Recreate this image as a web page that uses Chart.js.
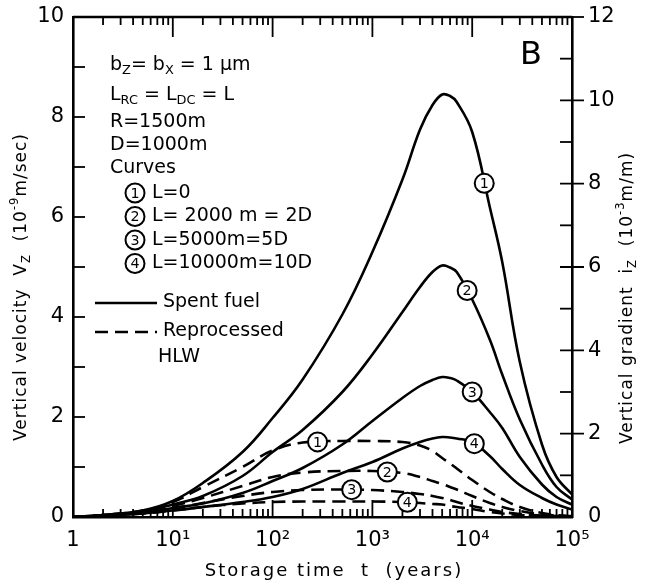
<!DOCTYPE html>
<html>
<head>
<meta charset="utf-8">
<script src="https://cdn.jsdelivr.net/npm/chart.js@4.4.1/dist/chart.umd.min.js"></script>
<style>
  html, body { margin: 0; padding: 0; background: #fff; }
  #wrap { width: 652px; height: 584px; }
</style>
</head>
<body>
<div id="wrap"><canvas id="chart" width="652" height="584"></canvas></div>
<script>
// storage time (years)
const years = [1, 2, 5, 10, 20, 50, 100, 200, 500, 1000, 2000, 3000, 4000, 5000, 6000, 7000, 10000, 15000, 20000, 30000, 50000, 70000, 100000];

// spent fuel, vertical velocity (10^-9 m/sec)
const spent1 = [0, 0.04, 0.13, 0.32, 0.68, 1.3, 1.98, 2.75, 4.05, 5.3, 6.75, 7.75, 8.24, 8.45, 8.42, 8.3, 7.7, 6.2, 5.1, 3.1, 1.45, 0.8, 0.45];
const spent2 = [0, 0.04, 0.11, 0.25, 0.42, 0.82, 1.3, 1.74, 2.5, 3.25, 4.1, 4.6, 4.9, 5.03, 4.99, 4.9, 4.35, 3.55, 2.85, 1.95, 1.05, 0.6, 0.35];
const spent3 = [0, 0.03, 0.08, 0.18, 0.27, 0.48, 0.72, 0.98, 1.45, 1.92, 2.38, 2.62, 2.74, 2.8, 2.78, 2.73, 2.5, 2.1, 1.78, 1.2, 0.65, 0.4, 0.25];
const spent4 = [0, 0.025, 0.07, 0.13, 0.2, 0.3, 0.4, 0.56, 0.88, 1.1, 1.37, 1.5, 1.57, 1.6, 1.59, 1.57, 1.5, 1.22, 0.96, 0.64, 0.38, 0.25, 0.15];

// reprocessed HLW
const hlw1 = [0, 0.04, 0.13, 0.3, 0.6, 1.0, 1.33, 1.49, 1.52, 1.52, 1.5, 1.43, 1.32, 1.18, 1.07, 0.97, 0.74, 0.5, 0.36, 0.2, 0.08, 0.04, 0.02];
const hlw2 = [0, 0.03, 0.1, 0.22, 0.38, 0.62, 0.8, 0.89, 0.92, 0.92, 0.88, 0.8, 0.72, 0.66, 0.6, 0.55, 0.42, 0.28, 0.2, 0.12, 0.05, 0.03, 0.01];
const hlw3 = [0, 0.03, 0.08, 0.17, 0.28, 0.42, 0.5, 0.54, 0.55, 0.54, 0.5, 0.46, 0.42, 0.38, 0.34, 0.3, 0.22, 0.15, 0.1, 0.06, 0.03, 0.02, 0.01];
const hlw4 = [0, 0.02, 0.07, 0.13, 0.2, 0.27, 0.3, 0.31, 0.31, 0.31, 0.3, 0.28, 0.26, 0.25, 0.22, 0.2, 0.16, 0.1, 0.07, 0.04, 0.02, 0.01, 0.01];

// where the curve numbers sit (years)
const spentMarkYears = [13200, 8900, 10000, 10500];
const hlwMarkYears = [282, 1410, 620, 2240];

const xTicks = [1, 10, 100, 1000, 10000, 100000];
const leftTicks = [0, 2, 4, 6, 8, 10];
const rightTicks = [0, 2, 4, 6, 8, 10, 12];

const curveNotes = ['L=0', 'L= 2000 m = 2D', 'L=5000m=5D', 'L=10000m=10D'];

const spent = [spent1, spent2, spent3, spent4];
const hlw = [hlw1, hlw2, hlw3, hlw4];

const sup = { '1': '\u00b9', '2': '\u00b2', '3': '\u00b3', '4': '\u2074', '5': '\u2075' };
const tickFont = { family: "'DejaVu Sans'", size: 21 };
const textFont = "'DejaVu Sans'";

function toPoints(vals) {
  return vals.map((v, i) => ({ x: years[i], y: v }));
}

function curve(vals, dashed) {
  return {
    data: toPoints(vals),
    borderColor: '#000',
    borderWidth: 2.6,
    borderDash: dashed ? [13, 7] : [],
    pointRadius: 0,
    fill: false,
    tension: 0.4,
    yAxisID: 'y'
  };
}

// value on a curve at time t, linear in log t
function valueAt(vals, t) {
  const lt = Math.log10(t);
  for (let i = 0; i < years.length - 1; i++) {
    const a = Math.log10(years[i]), b = Math.log10(years[i + 1]);
    if (lt >= a && lt <= b) {
      return vals[i] + (vals[i + 1] - vals[i]) * (lt - a) / (b - a);
    }
  }
  return vals[vals.length - 1];
}

// text with sub/superscript pieces
function richWidth(ctx, parts, size) {
  let w = 0;
  parts.forEach(p => {
    ctx.font = (p[1] ? size * 0.68 : size) + 'px ' + textFont;
    w += ctx.measureText(p[0]).width;
  });
  return w;
}
function drawRich(ctx, parts, x, y, size) {
  parts.forEach(p => {
    ctx.font = (p[1] ? size * 0.68 : size) + 'px ' + textFont;
    let dy = 0;
    if (p[1] === 'sub') dy = size * 0.3;
    if (p[1] === 'sup') dy = -size * 0.42;
    ctx.fillText(p[0], x, y + dy);
    x += ctx.measureText(p[0]).width;
  });
}

function numCircle(ctx, x, y, n, r) {
  ctx.save();
  ctx.setLineDash([]);
  ctx.beginPath();
  ctx.arc(x, y, r, 0, Math.PI * 2);
  ctx.fillStyle = '#fff';
  ctx.fill();
  ctx.lineWidth = 2;
  ctx.strokeStyle = '#000';
  ctx.stroke();
  ctx.fillStyle = '#000';
  ctx.font = (r * 1.5) + 'px ' + textFont;
  ctx.textAlign = 'center';
  ctx.textBaseline = 'middle';
  ctx.fillText(String(n), x, y + 1);
  ctx.restore();
}

// keep tick labels from pushing the plot frame
function noLabelPadding(s) {
  s.paddingTop = 0;
  s.paddingBottom = 0;
}

const decor = {
  id: 'decor',
  afterDraw(chart) {
    const ctx = chart.ctx;
    const a = chart.chartArea;
    const xs = chart.scales.x, ys = chart.scales.y, y2 = chart.scales.y2;
    ctx.save();
    ctx.strokeStyle = '#000';
    ctx.fillStyle = '#000';
    ctx.lineWidth = 2.6;

    // top frame line
    ctx.beginPath();
    ctx.moveTo(a.left, a.top);
    ctx.lineTo(a.right, a.top);
    ctx.stroke();

    // log ticks, bottom and top, pointing inward
    ctx.lineWidth = 1.8;
    for (let d = 0; d < 5; d++) {
      for (let m = 1; m <= 9; m++) {
        const v = m * Math.pow(10, d);
        if (m === 1 && d === 0) continue;
        const px = xs.getPixelForValue(v);
        const len = m === 1 ? 17 : 8;
        ctx.beginPath();
        ctx.moveTo(px, a.bottom);
        ctx.lineTo(px, a.bottom - len);
        ctx.moveTo(px, a.top);
        ctx.lineTo(px, a.top + (m === 1 ? 20 : 8));
        ctx.stroke();
      }
    }
    // left ticks
    for (let v = 1; v < 10; v++) {
      const py = ys.getPixelForValue(v);
      ctx.beginPath();
      ctx.moveTo(a.left, py);
      ctx.lineTo(a.left + 12, py);
      ctx.stroke();
    }
    // right ticks, inward, with outer dash at labelled values
    for (let v = 1; v <= 12; v++) {
      const py = y2.getPixelForValue(v);
      ctx.beginPath();
      if (v < 12) {
        ctx.moveTo(a.right, py);
        ctx.lineTo(a.right - 12, py);
      }
      if (v % 2 === 0) {
        ctx.moveTo(a.right, py);
        ctx.lineTo(a.right + 12, py);
      }
      ctx.stroke();
    }

    // curve numbers
    spent.forEach((vals, i) => {
      const t = spentMarkYears[i];
      numCircle(ctx, xs.getPixelForValue(t), ys.getPixelForValue(valueAt(vals, t)), i + 1, 9.5);
    });
    hlw.forEach((vals, i) => {
      const t = hlwMarkYears[i];
      numCircle(ctx, xs.getPixelForValue(t), ys.getPixelForValue(valueAt(vals, t)), i + 1, 9.5);
    });

    // parameter block
    ctx.textAlign = 'left';
    ctx.textBaseline = 'middle';
    const fs = 19;
    const tx = a.left + 37;
    drawRich(ctx, [['b', ''], ['Z', 'sub'], ['= b', ''], ['X', 'sub'], [' = 1 \u03bcm', '']], tx, 65, fs);
    drawRich(ctx, [['L', ''], ['RC', 'sub'], [' = L', ''], ['DC', 'sub'], [' = L', '']], tx, 95, fs);
    drawRich(ctx, [['R=1500m', '']], tx, 122, fs);
    drawRich(ctx, [['D=1000m', '']], tx, 145, fs);
    drawRich(ctx, [['Curves', '']], tx, 168, fs);
    curveNotes.forEach((s, i) => {
      const yy = 193 + i * 23.5;
      numCircle(ctx, tx + 25, yy, i + 1, 9.5);
      ctx.fillStyle = '#000';
      drawRich(ctx, [[s, '']], tx + 42, yy, fs);
    });

    // legend
    ctx.lineWidth = 2.6;
    ctx.beginPath();
    ctx.moveTo(a.left + 22, 303);
    ctx.lineTo(a.left + 84, 303);
    ctx.stroke();
    ctx.setLineDash([13, 7]);
    ctx.beginPath();
    ctx.moveTo(a.left + 22, 332);
    ctx.lineTo(a.left + 84, 332);
    ctx.stroke();
    ctx.setLineDash([]);
    drawRich(ctx, [['Spent fuel', '']], a.left + 90, 302, fs);
    drawRich(ctx, [['Reprocessed', '']], a.left + 90, 331, fs);
    drawRich(ctx, [['HLW', '']], a.left + 85, 357, fs);

    // panel letter
    ctx.font = '32px ' + textFont;
    ctx.textAlign = 'center';
    ctx.fillText('B', 531, 56);

    // axis titles
    ctx.textAlign = 'left';
    ctx.letterSpacing = '2px';
    const xt = [['Storage time  t  (years)', '']];
    const xw = richWidth(ctx, xt, 18);
    drawRich(ctx, xt, 334 - xw / 2, 571, 18);

    ctx.letterSpacing = '1px';
    const lt = [['Vertical velocity  V', ''], ['Z', 'sub'], ['  (10', ''], ['-9', 'sup'], ['m/sec)', '']];
    const lw = richWidth(ctx, lt, 17);
    ctx.save();
    ctx.translate(22, 287);
    ctx.rotate(-Math.PI / 2);
    drawRich(ctx, lt, -lw / 2, 0, 17);
    ctx.restore();

    const rt = [['Vertical gradient  i', ''], ['Z', 'sub'], ['  (10', ''], ['-3', 'sup'], ['m/m)', '']];
    const rw = richWidth(ctx, rt, 17);
    ctx.save();
    ctx.translate(628, 298);
    ctx.rotate(-Math.PI / 2);
    drawRich(ctx, rt, -rw / 2, 0, 17);
    ctx.restore();

    ctx.restore();
  }
};

new Chart(document.getElementById('chart'), {
  type: 'line',
  data: {
    datasets: [
      curve(spent1, false), curve(spent2, false), curve(spent3, false), curve(spent4, false),
      curve(hlw1, true), curve(hlw2, true), curve(hlw3, true), curve(hlw4, true)
    ]
  },
  options: {
    responsive: false,
    animation: false,
    layout: { padding: { top: 17, left: 0, right: 0, bottom: 0 } },
    plugins: { legend: { display: false }, tooltip: { enabled: false } },
    scales: {
      x: {
        type: 'logarithmic',
        position: 'bottom',
        min: 1,
        max: 100000,
        afterBuildTicks: s => { s.ticks = xTicks.map(v => ({ value: v })); },
        afterFit: s => { s.height = 67; s.paddingLeft = 0; s.paddingRight = 0; },
        ticks: {
          color: '#000',
          font: tickFont,
          padding: 11,
          maxRotation: 0,
          autoSkip: false,
          callback: v => v === 1 ? '1' : '10' + sup[String(Math.round(Math.log10(v)))]
        },
        grid: { display: false, drawTicks: false },
        border: { display: true, color: '#000', width: 2.6 }
      },
      y: {
        position: 'left',
        min: 0,
        max: 10,
        afterBuildTicks: s => { s.ticks = leftTicks.map(v => ({ value: v })); },
        afterFit: s => { s.width = 73; noLabelPadding(s); },
        ticks: { color: '#000', font: tickFont, padding: 9 },
        grid: { display: false, drawTicks: false },
        border: { display: true, color: '#000', width: 2.6 }
      },
      y2: {
        position: 'right',
        min: 0,
        max: 12,
        afterBuildTicks: s => { s.ticks = rightTicks.map(v => ({ value: v })); },
        afterFit: s => { s.width = 80; noLabelPadding(s); },
        ticks: { color: '#000', font: tickFont, padding: 16 },
        grid: { display: false, drawTicks: false },
        border: { display: true, color: '#000', width: 2.6 }
      }
    }
  },
  plugins: [decor]
});
</script>
</body>
</html>
